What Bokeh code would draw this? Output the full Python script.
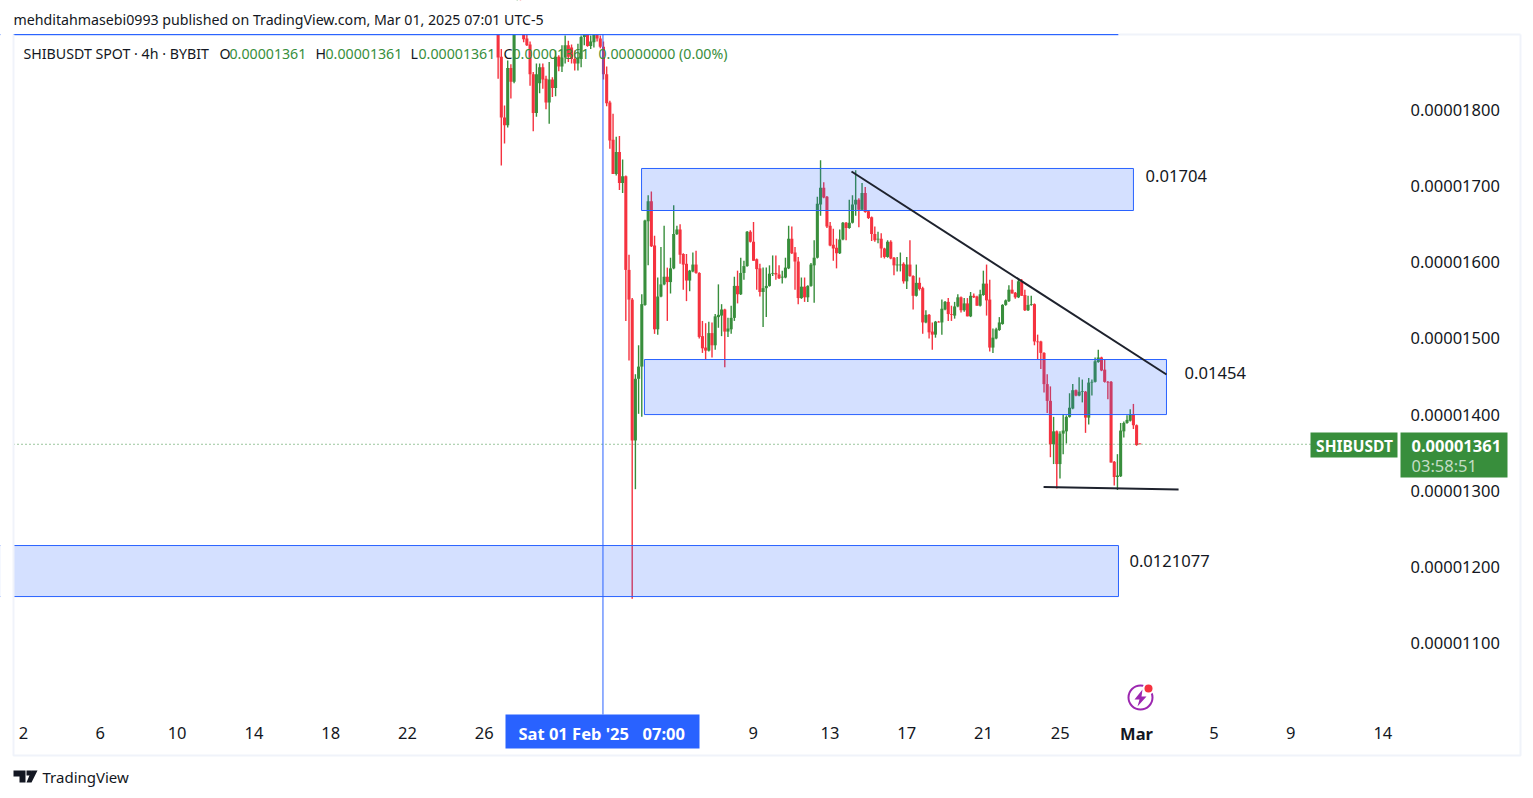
from bokeh.plotting import figure
from bokeh.embed import file_html
from bokeh.resources import INLINE
from bokeh.core.properties import value
from bokeh.models import Range1d, FixedTicker, ColumnDataSource
import numpy as np

# Prices are in units of 0.00000001 USDT; x is in days since 1 Jan 2025.
opens = [1925,1870,1790,1780,1855,1837,1920,1935,1905,1894,1886,1847,1796,1835,1856,1841,1810,1840,1829,1870,
         1857,1869,1885,1882,1867,1861,1867,1896,1905,1884,1889,1905,1894,1883,1847,1810,1761,1716,1745,1704,
         1713,1590,1551,1366,1447,1463,1544,1654,1680,1622,1512,1555,1571,1581,1574,1592,1637,1643,1611,1598,
         1576,1588,1597,1586,1503,1488,1484,1507,1491,1528,1530,1538,1509,1512,1527,1569,1558,1586,1595,1640,
         1627,1604,1592,1561,1566,1569,1585,1586,1584,1580,1580,1592,1631,1613,1601,1553,1568,1554,1569,1596,
         1606,1676,1698,1686,1648,1623,1619,1612,1630,1652,1645,1652,1676,1682,1669,1691,1667,1659,1637,1630,
         1631,1618,1607,1627,1606,1596,1596,1598,1575,1597,1582,1556,1573,1566,1521,1531,1509,1505,1522,1521,
         1538,1548,1532,1530,1542,1554,1537,1546,1529,1556,1555,1543,1557,1572,1551,1488,1500,1511,1519,1544,
         1549,1564,1560,1554,1575,1557,1537,1544,1545,1496,1496,1481,1440,1418,1361,1378,1335,1375,1378,1397,
         1408,1432,1425,1430,1430,1396,1442,1443,1469,1475,1459,1443,1443,1338,1318,1319,1378,1389,1392,1400,
         1386,1362]
highs = [1940,1880,1806,1865,1860,1930,1945,1945,1915,1900,1890,1850,1861,1861,1861,1845,1863,1843,1878,1872,
         1885,1898,1891,1886,1878,1887,1898,1925,1915,1898,1905,1912,1898,1890,1857,1812,1795,1765,1766,1735,
         1714,1610,1553,1453,1491,1558,1656,1688,1693,1635,1580,1620,1648,1593,1606,1675,1648,1650,1612,1611,
         1590,1613,1615,1587,1523,1520,1522,1521,1532,1571,1545,1539,1527,1543,1581,1589,1606,1602,1641,1642,
         1653,1605,1598,1593,1593,1596,1609,1609,1596,1589,1606,1648,1647,1620,1607,1580,1580,1570,1599,1629,
         1686,1734,1705,1687,1653,1644,1631,1643,1653,1653,1682,1688,1721,1684,1704,1699,1668,1660,1647,1640,
         1638,1619,1629,1629,1607,1607,1613,1600,1607,1629,1583,1597,1580,1568,1537,1532,1521,1523,1523,1551,
         1549,1553,1543,1548,1558,1555,1553,1553,1561,1559,1556,1564,1589,1597,1577,1513,1514,1528,1545,1551,
         1570,1577,1561,1578,1578,1564,1556,1556,1546,1505,1497,1482,1453,1437,1397,1379,1378,1400,1399,1428,
         1440,1433,1449,1446,1431,1448,1446,1475,1485,1476,1473,1444,1444,1339,1348,1389,1391,1399,1407,1414,
         1387,1362]
lows = [1841,1727,1756,1777,1815,1835,1915,1905,1889,1884,1832,1772,1791,1822,1828,1801,1782,1817,1818,1851,
        1850,1861,1863,1861,1852,1852,1856,1885,1883,1880,1882,1890,1881,1840,1805,1749,1716,1714,1695,1691,
        1523,1471,1158,1302,1401,1397,1543,1596,1620,1506,1505,1554,1570,1523,1559,1591,1636,1598,1564,1549,
        1562,1587,1585,1500,1481,1472,1483,1475,1485,1514,1503,1462,1502,1506,1523,1546,1557,1577,1594,1626,
        1602,1564,1555,1515,1528,1568,1582,1577,1578,1572,1579,1591,1611,1564,1545,1552,1548,1548,1568,1547,
        1605,1661,1684,1645,1621,1602,1592,1611,1629,1629,1644,1651,1661,1646,1668,1665,1657,1628,1627,1625,
        1606,1605,1606,1604,1583,1588,1588,1572,1565,1581,1538,1555,1563,1506,1520,1500,1485,1501,1521,1505,
        1537,1523,1523,1526,1541,1534,1535,1529,1528,1553,1543,1542,1556,1530,1483,1481,1499,1510,1518,1543,
        1548,1559,1552,1553,1556,1536,1536,1543,1491,1473,1460,1429,1402,1344,1335,1303,1316,1348,1362,1396,
        1407,1424,1424,1416,1376,1387,1425,1442,1468,1457,1442,1420,1337,1307,1301,1318,1370,1388,1391,1381,
        1359,1361]
closes = [1869,1790,1780,1855,1837,1920,1935,1910,1893,1885,1847,1796,1847,1856,1840,1810,1840,1829,1870,1857,
          1869,1885,1870,1867,1861,1869,1896,1905,1884,1890,1899,1894,1883,1847,1809,1760,1716,1745,1704,1713,
          1590,1551,1366,1447,1463,1545,1655,1680,1621,1512,1555,1571,1581,1574,1592,1637,1643,1610,1597,1576,
          1589,1597,1586,1502,1487,1484,1507,1491,1529,1531,1538,1509,1513,1527,1569,1558,1586,1595,1640,1627,
          1602,1591,1561,1566,1569,1585,1586,1584,1579,1581,1593,1631,1612,1601,1553,1568,1554,1569,1597,1606,
          1677,1698,1685,1647,1622,1618,1612,1630,1652,1645,1652,1676,1682,1669,1691,1666,1658,1637,1629,1631,
          1618,1607,1627,1605,1596,1597,1597,1575,1597,1582,1556,1573,1565,1521,1531,1508,1505,1522,1521,1539,
          1548,1532,1531,1542,1554,1537,1546,1529,1556,1554,1543,1558,1572,1550,1488,1501,1512,1521,1544,1550,
          1564,1559,1554,1575,1556,1537,1544,1545,1496,1495,1481,1440,1418,1361,1378,1335,1375,1379,1397,1409,
          1432,1425,1430,1431,1396,1442,1443,1470,1475,1458,1443,1442,1337,1318,1320,1379,1389,1393,1400,1386,
          1360,1361]

y_ticks = [1100, 1200, 1300, 1400, 1500, 1600, 1700, 1800]
y_tick_labels = ["0.00001100", "0.00001200", "0.00001300", "0.00001400",
                 "0.00001500", "0.00001600", "0.00001700", "0.00001800"]
x_ticks = [1, 5, 9, 13, 17, 21, 25, 39, 43, 47, 51, 55, 63, 67, 71.8]
x_tick_labels = ["2", "6", "10", "14", "18", "22", "26", "9", "13", "17", "21", "25", "5", "9", "14"]

# Zones drawn on the chart
zone_x0 = [33.19, 33.34, -1.0, -1.0]
zone_x1 = [58.81, 60.53, 58.03, 58.03]
zone_bottom = [1668, 1400, 1161, 1899]
zone_top = [1723.2, 1472.3, 1228, 1899]
captions = ["0.01704", "0.01454", "0.0121077"]
caption_x = [59.44, 61.47, 58.6]
caption_y = [1712.7, 1454, 1208]

# Trend lines
trend_x = [[44.125, 60.53], [54.13, 61.16]]
trend_y = [[1719.2, 1452.6], [1304.9, 1301.6]]

last_price = 1361
crosshair_day = 31.18
first_bar_day, last_bar_day = 25.72, 59.14

GREEN = "#388e3c"
RED = "#f5323f"
BLUE = "#2962ff"
INK = "#131722"
FONT = "Noto Sans"
W, H = 1525, 790


def X(px):
    return 1 + (px - 23) / 19.2


def Y(py):
    return 1800 - (py - 109.5) * 1.3133


p = figure(width=W, height=H, output_backend="svg", toolbar_location=None,
           x_range=Range1d(X(0), X(W)), y_range=Range1d(Y(H), Y(0)),
           y_axis_location="right", x_axis_location="below",
           min_border_left=0, min_border_right=0, min_border_top=0, min_border_bottom=0,
           background_fill_color="white", border_fill_color="white", outline_line_color=None)
p.grid.visible = False

days = np.linspace(first_bar_day, last_bar_day, len(opens))
o, h, l, c = map(np.array, (opens, highs, lows, closes))
colors = [GREEN if ci >= oi else RED for oi, ci in zip(opens, closes)]
src = ColumnDataSource(dict(x=days, o=o, h=h, l=l, c=c, top=np.maximum(o, c), bottom=np.minimum(o, c), color=colors))
p.segment("x", "h", "x", "l", source=src, line_color="color", line_width=1.4)
p.vbar("x", width=0.16, top="top", bottom="bottom", source=src, fill_color="color", line_color=None)

# Area above the pane hides what leaves the top of the scale
p.quad(left=[X(0)], right=[X(W)], bottom=[Y(34)], top=[Y(-40)], fill_color="white", line_color=None)

p.line([X(13), X(1310)], [last_price, last_price], line_color=GREEN, line_width=1, line_dash="1 3")
p.line([crosshair_day, crosshair_day], [Y(714), Y(34)], line_color=BLUE, line_width=1)

p.quad(left=zone_x0, right=zone_x1, bottom=zone_bottom, top=zone_top,
       fill_color=BLUE, fill_alpha=0.2, line_color=BLUE, line_width=1)

# Area left of the pane: the two long zones run off this side
p.quad(left=[X(-30)], right=[X(13)], bottom=[Y(800)], top=[Y(-40)], fill_color="white", line_color=None)

# Pane border
p.multi_line(xs=[[X(13), X(13), X(1520), X(1520)], [X(1118), X(1520)]],
             ys=[[Y(34), Y(755), Y(755), Y(34)], [Y(34), Y(34)]], line_color="#f0f3fa", line_width=2)

for xs, ys in zip(trend_x, trend_y):
    p.line(xs, ys, line_color="#1e222d", line_width=2)

p.text(x=caption_x, y=caption_y, text=captions, text_font=value(FONT), text_font_size="16.6px",
       text_color=INK, text_baseline="middle", text_align="left")


def tag(x0, x1, y0, y1, color):
    p.quad(left=[X(x0)], right=[X(x1)], top=[Y(y0)], bottom=[Y(y1)], fill_color=color, line_color=None)


def text(x, y, s, color=INK, size="14.2px", align="left", style="normal"):
    p.text(x=[X(x)], y=[Y(y)], text=[s], text_color=color, text_font=value(FONT), text_font_size=size,
           text_align=align, text_baseline="middle", text_font_style=style)


def poly(xs, ys, color):
    p.patch([X(a) for a in xs], [Y(b) for b in ys], fill_color=color, line_color=None)


# Lightning badge
p.scatter(x=[X(1140)], y=[Y(697)], size=24, marker="circle", fill_color=None, line_color="#9c27b0", line_width=2)
p.scatter(x=[X(1148)], y=[Y(688)], size=12, marker="circle", fill_color="white", line_color=None)
p.scatter(x=[X(1148)], y=[Y(688)], size=8, marker="circle", fill_color=RED, line_color=None)
poly([1142, 1134, 1139, 1137, 1146, 1141], [689, 699, 699, 706, 696, 696], "#9c27b0")

# Header
text(13, 19, "mehditahmasebi0993 published on TradingView.com, Mar 01, 2025 07:01 UTC-5")
text(23, 53, "SHIBUSDT SPOT · 4h · BYBIT")
for xl, sl, xv, sv in [(219, "O", 229, "0.00001361"), (315, "H", 325, "0.00001361"),
                       (410, "L", 418, "0.00001361"), (503, "C", 512, "0.00001361")]:
    text(xl, 53, sl)
    text(xv, 53, sv, GREEN)
text(598, 53, "0.00000000 (0.00%)", GREEN)

# Last-price tags
tag(1310, 1397, 432, 457, GREEN)
text(1354, 445, "SHIBUSDT", "white", "15.5px", "center", "bold")
tag(1400, 1507, 432, 477, GREEN)
text(1411, 445, "0.00001361", "white", "16.5px", "left", "bold")
text(1411, 465, "03:58:51", "#c3ddc5", "16.5px", "left")

# Crosshair date tag and bold month tick
tag(505, 699, 714, 748, BLUE)
text(518, 733, "Sat 01 Feb '25", "white", "16.5px", "left", "bold")
text(642, 733, "07:00", "white", "16.5px", "left", "bold")
text(1136, 733, "Mar", INK, "16.5px", "center", "bold")

# Logo
poly([13, 25, 25, 19, 19, 13], [770, 770, 782, 782, 776, 776], INK)
poly([26, 31, 31, 26], [770, 770, 775, 775], INK)
poly([31, 37, 31, 26], [770, 770, 782, 782], INK)
text(42, 776, "TradingView", INK, "15px")

# Axes: held at fixed places inside the page
for ax in (p.xaxis[0], p.yaxis[0]):
    ax.axis_line_color = None
    ax.major_tick_line_color = None
    ax.minor_tick_line_color = None
    ax.major_label_text_color = INK
    ax.major_label_text_font = FONT
    ax.major_label_text_font_size = "16.5px"

p.yaxis[0].ticker = FixedTicker(ticks=y_ticks)
p.yaxis[0].major_label_overrides = dict(zip(y_ticks, y_tick_labels))
p.yaxis[0].fixed_location = X(1397)
p.yaxis[0].major_label_standoff = 7
p.xaxis[0].ticker = FixedTicker(ticks=x_ticks)
p.xaxis[0].major_label_overrides = dict(zip(x_ticks, x_tick_labels))
p.xaxis[0].fixed_location = Y(714)
p.xaxis[0].major_label_standoff = 6

open("out.html", "w").write(file_html(p, INLINE))
